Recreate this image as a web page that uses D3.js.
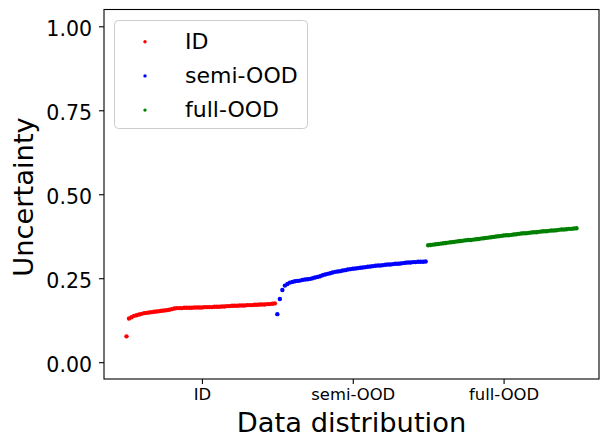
<!DOCTYPE html>
<html>
<head>
<meta charset="utf-8">
<script src="https://cdn.jsdelivr.net/npm/d3@7"></script>
<style>
body{margin:0;background:#fff;}
text{font-family:"DejaVu Sans",sans-serif;fill:#000;}
</style>
</head>
<body>
<svg width="608" height="447"></svg>
<script>
// data (sorted uncertainty per group)
const groups = ['ID', 'semi-OOD', 'full-OOD'];
const colors = ['#ff0000', '#0000ff', '#008000'];
const yTicks = [0, 0.25, 0.5, 0.75, 1.0];

const idValues = [0.077, 0.130, 0.134, 0.138, 0.140, 0.142, 0.144, 0.146, 0.147, 0.148,
  0.149, 0.150, 0.151, 0.152, 0.153, 0.154, 0.155, 0.156, 0.158, 0.160,
  0.161, 0.161, 0.161, 0.162, 0.162, 0.162, 0.162, 0.163, 0.163, 0.163,
  0.163, 0.164, 0.164, 0.164, 0.164, 0.165, 0.165, 0.165, 0.166, 0.166,
  0.167, 0.167, 0.168, 0.168, 0.168, 0.169, 0.169, 0.169, 0.170, 0.170,
  0.170, 0.171, 0.171, 0.172, 0.172, 0.172, 0.173, 0.173, 0.174, 0.175];

const semiValues = [0.143, 0.188, 0.215, 0.228, 0.233, 0.237, 0.239, 0.241, 0.242, 0.243,
  0.245, 0.246, 0.247, 0.248, 0.250, 0.252, 0.254, 0.256, 0.259, 0.261,
  0.263, 0.265, 0.267, 0.269, 0.270, 0.271, 0.273, 0.274, 0.276, 0.277,
  0.278, 0.279, 0.280, 0.281, 0.282, 0.283, 0.284, 0.285, 0.286, 0.287,
  0.288, 0.288, 0.289, 0.290, 0.291, 0.291, 0.292, 0.293, 0.293, 0.294,
  0.295, 0.296, 0.297, 0.297, 0.298, 0.298, 0.299, 0.299, 0.299, 0.300];

const fullValues = [0.348, 0.349, 0.350, 0.351, 0.352, 0.353, 0.354, 0.355, 0.356, 0.357,
  0.358, 0.359, 0.360, 0.361, 0.362, 0.363, 0.364, 0.364, 0.365, 0.366,
  0.367, 0.368, 0.369, 0.370, 0.371, 0.372, 0.373, 0.374, 0.375, 0.376,
  0.377, 0.378, 0.378, 0.379, 0.380, 0.381, 0.382, 0.383, 0.384, 0.384,
  0.385, 0.386, 0.387, 0.387, 0.388, 0.389, 0.390, 0.390, 0.391, 0.392,
  0.392, 0.393, 0.394, 0.395, 0.395, 0.396, 0.397, 0.397, 0.398, 0.399];

// step 1 select the svg
let svg = d3.select('svg');
let plotLeft = 104, plotRight = 599, plotTop = 9.5, plotBottom = 379;

// step 2 flatten the groups into points, x is just the running index
let series = [idValues, semiValues, fullValues];
let n = idValues.length;
let total = n * series.length;
let points = [];
series.forEach(function (vals, g) {
  vals.forEach(function (v, i) { points.push({x: g * n + i, y: v, g: g}) })
});

// step 3 scales (matplotlib style 5% margins)
let xScale = d3.scaleLinear().domain([-0.05 * (total - 1), 1.05 * (total - 1)]).range([plotLeft, plotRight]);
let yScale = d3.scaleLinear().domain([-0.05, 1.05]).range([plotBottom, plotTop]);

// step 4 axes
let xAxis = d3.axisBottom(xScale)
  .tickValues(groups.map(function (d, g) { return g * n + n / 2 }))
  .tickFormat(function (d, i) { return groups[i] })
  .tickSize(5).tickSizeOuter(0).tickPadding(4.5);
let gx = svg.append('g').attr('transform', 'translate(0,' + plotBottom + ')').call(xAxis);
gx.select('.domain').remove();
gx.selectAll('text').attr('font-size', '16.4px').attr('font-family', 'DejaVu Sans');

let yAxis = d3.axisLeft(yScale)
  .tickValues(yTicks)
  .tickFormat(d3.format('.2f'))
  .tickSize(5).tickSizeOuter(0).tickPadding(7);
let gy = svg.append('g').attr('transform', 'translate(' + plotLeft + ',0)').call(yAxis);
gy.select('.domain').remove();
gy.selectAll('text').attr('font-size', '20.5px').attr('font-family', 'DejaVu Sans').attr('dy', '0.46em');
svg.selectAll('.tick line').attr('stroke', '#000').attr('stroke-width', 1.1);

// step 5 the points
svg.append('g').selectAll('circle')
  .data(points)
  .join('circle')
  .attr('cx', function (d) { return xScale(d.x) })
  .attr('cy', function (d) { return yScale(d.y) })
  .attr('r', 2.2)
  .attr('fill', function (d) { return colors[d.g] });

// frame
svg.append('rect')
  .attr('x', plotLeft).attr('y', plotTop)
  .attr('width', plotRight - plotLeft).attr('height', plotBottom - plotTop)
  .attr('fill', 'none').attr('stroke', '#000').attr('stroke-width', 1.1);

// axis labels
svg.append('text')
  .attr('x', (plotLeft + plotRight) / 2).attr('y', 431.5)
  .attr('text-anchor', 'middle').attr('font-size', '27.3px')
  .text('Data distribution');
svg.append('text')
  .attr('transform', 'translate(33,197) rotate(-90)')
  .attr('text-anchor', 'middle').attr('font-size', '27.3px')
  .text('Uncertainty');

// legend
let lg = svg.append('g');
lg.append('rect')
  .attr('x', 114.5).attr('y', 20.5).attr('width', 193).attr('height', 108).attr('rx', 4)
  .attr('fill', '#fff').attr('fill-opacity', 0.8).attr('stroke', '#cccccc').attr('stroke-width', 1);
let rows = lg.selectAll('g.row').data(groups).join('g')
  .attr('transform', function (d, i) { return 'translate(0,' + (41.7 + i * 34.2) + ')' });
rows.append('circle').attr('cx', 145).attr('cy', 0).attr('r', 1.7)
  .attr('fill', function (d, i) { return colors[i] });
rows.append('text').attr('x', 185).attr('y', 7.2).attr('font-size', '22px')
  .text(function (d) { return d });
</script>
</body>
</html>
